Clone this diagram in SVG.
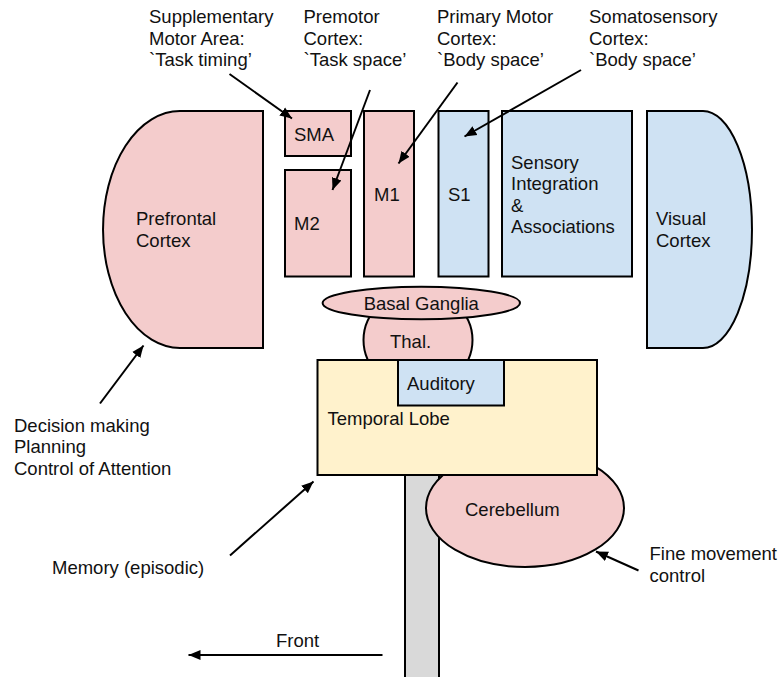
<svg xmlns="http://www.w3.org/2000/svg" width="778" height="677" viewBox="0 0 778 677">
  <style>
    .pink { fill: #f4cccc; stroke: #000; stroke-width: 2; }
    .blue { fill: #cfe2f3; stroke: #000; stroke-width: 2; }
    .yellow { fill: #fff2cc; stroke: #000; stroke-width: 2; }
    .gray { fill: #d9d9d9; stroke: #000; stroke-width: 2; }
    text { font-family: "Liberation Sans", Arial, sans-serif; font-size: 18.5px; fill: #111; }
    .conn line { stroke: #000; stroke-width: 2; marker-end: url(#arrow); }
  </style>
  <defs>
    <marker id="arrow" markerUnits="userSpaceOnUse" markerWidth="14" markerHeight="12" refX="12" refY="6" orient="auto">
      <path d="M0,1 L12,6 L0,11 Z" fill="#000"/>
    </marker>
  </defs>

  <rect width="778" height="677" fill="#fff"/>

  <!-- brain stem and cerebellum sit behind the temporal lobe -->
  <g id="brainstem">
    <rect class="gray" x="405" y="470" width="34" height="220"/>
  </g>
  <g id="cerebellum">
    <ellipse class="pink" cx="525" cy="508" rx="99" ry="59"/>
    <text x="465" y="516">Cerebellum</text>
  </g>

  <g id="prefrontal">
    <path class="pink" d="M263,111 H180 A77,118.5 0 0 0 180,348 H263 Z"/>
    <text x="136" y="225">Prefrontal</text>
    <text x="136" y="246.5">Cortex</text>
  </g>

  <g id="sma">
    <rect class="pink" x="285" y="111" width="66" height="45"/>
    <text x="294" y="140.5">SMA</text>
  </g>

  <g id="m2">
    <rect class="pink" x="285" y="170" width="66" height="106.5"/>
    <text x="294" y="229.5">M2</text>
  </g>

  <g id="m1">
    <rect class="pink" x="364" y="111" width="50" height="165.5"/>
    <text x="374" y="201">M1</text>
  </g>

  <g id="s1">
    <rect class="blue" x="438.5" y="111" width="50" height="165.5"/>
    <text x="448" y="201">S1</text>
  </g>

  <g id="sensory-integration">
    <rect class="blue" x="502" y="111" width="130" height="165.5"/>
    <text x="511" y="168.5">Sensory</text>
    <text x="511" y="190">Integration</text>
    <text x="511" y="211.5">&amp;</text>
    <text x="511" y="233">Associations</text>
  </g>

  <g id="visual">
    <path class="blue" d="M647,111 H703 A49,118.5 0 0 1 703,348 H647 Z"/>
    <text x="656" y="225">Visual</text>
    <text x="656" y="246.5">Cortex</text>
  </g>

  <g id="thalamus">
    <ellipse class="pink" cx="418" cy="340" rx="54.5" ry="50"/>
    <text x="390" y="348">Thal.</text>
  </g>

  <g id="basal-ganglia">
    <ellipse class="pink" cx="421.3" cy="303" rx="98.7" ry="16.3"/>
    <text x="421.3" y="310" text-anchor="middle">Basal Ganglia</text>
  </g>

  <g id="temporal">
    <rect class="yellow" x="317.5" y="360" width="279.5" height="115"/>
    <text x="327.5" y="425">Temporal Lobe</text>
  </g>

  <g id="auditory">
    <rect class="blue" x="398" y="360" width="106" height="45.5"/>
    <text x="407" y="390">Auditory</text>
  </g>

  <!-- annotation labels -->
  <g id="label-sma">
    <text x="149" y="23.3">Supplementary</text>
    <text x="149" y="44.8">Motor Area:</text>
    <text x="149" y="66.3">`Task timing’</text>
  </g>
  <g id="label-premotor">
    <text x="303.5" y="23.3">Premotor</text>
    <text x="303.5" y="44.8">Cortex:</text>
    <text x="303.5" y="66.3">`Task space’</text>
  </g>
  <g id="label-m1">
    <text x="437" y="23.3">Primary Motor</text>
    <text x="437" y="44.8">Cortex:</text>
    <text x="437" y="66.3">`Body space’</text>
  </g>
  <g id="label-s1">
    <text x="589" y="23.3">Somatosensory</text>
    <text x="589" y="44.8">Cortex:</text>
    <text x="589" y="66.3">`Body space’</text>
  </g>
  <g id="label-prefrontal">
    <text x="14" y="431.5">Decision making</text>
    <text x="14" y="453">Planning</text>
    <text x="14" y="474.5">Control of Attention</text>
  </g>
  <g id="label-memory">
    <text x="52" y="574">Memory (episodic)</text>
  </g>
  <g id="label-cerebellum">
    <text x="649.5" y="560">Fine movement</text>
    <text x="649.5" y="581.5">control</text>
  </g>
  <g id="label-front">
    <text x="276" y="646.5">Front</text>
  </g>

  <!-- connectors -->
  <g class="conn">
    <line x1="229.5" y1="74" x2="292" y2="118.5"/>
    <line x1="370" y1="90" x2="332.5" y2="190"/>
    <line x1="457.5" y1="82.5" x2="398.5" y2="163.5"/>
    <line x1="581" y1="70" x2="464.5" y2="136.5"/>
    <line x1="100" y1="403.5" x2="143.5" y2="345.5"/>
    <line x1="230" y1="555.5" x2="313.5" y2="481.5"/>
    <line x1="638.5" y1="570.5" x2="596" y2="551.5"/>
    <line x1="382.5" y1="655" x2="188.5" y2="655"/>
  </g>
</svg>
